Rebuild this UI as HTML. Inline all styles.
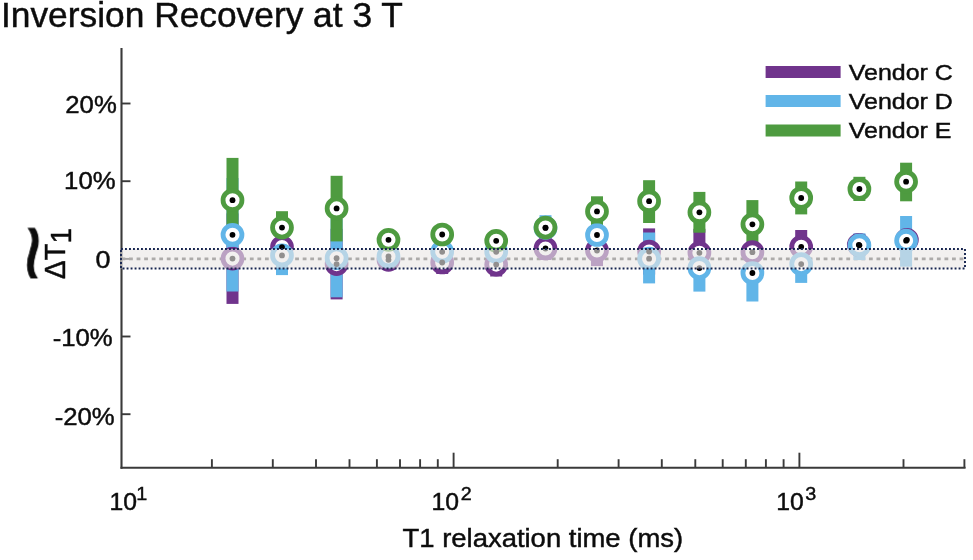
<!DOCTYPE html>
<html><head><meta charset="utf-8"><title>Inversion Recovery at 3 T</title>
<style>
html,body{margin:0;padding:0;background:#fff;}
body{width:973px;height:560px;overflow:hidden;position:relative;font-family:"Liberation Sans",sans-serif;}
svg{position:absolute;left:0;top:0;display:block}
svg text{font-family:"Liberation Sans",sans-serif;fill:#0c0c0c;stroke:#0c0c0c;stroke-width:0.45px;}
</style></head><body>
<svg width="973" height="560" viewBox="0 0 973 560">
<rect width="973" height="560" fill="#fff"/>
<g style="filter:blur(0.4px)">
<g transform="translate(1.0,27.4) scale(1.027,1)"><text x="0" y="0" font-size="34.4">Inversion Recovery at 3 T</text></g>
<g stroke="#3a3a3a" stroke-width="1.9" fill="none">
<line x1="121.5" y1="48" x2="121.5" y2="468.7" stroke-width="2.1"/>
<line x1="120.5" y1="467.8" x2="965.6" y2="467.8" stroke-width="2.1"/>
<line x1="211.9" y1="467.8" x2="211.9" y2="459.2"/>
<line x1="272.8" y1="467.8" x2="272.8" y2="459.2"/>
<line x1="316.0" y1="467.8" x2="316.0" y2="459.2"/>
<line x1="349.5" y1="467.8" x2="349.5" y2="459.2"/>
<line x1="376.9" y1="467.8" x2="376.9" y2="459.2"/>
<line x1="400.0" y1="467.8" x2="400.0" y2="459.2"/>
<line x1="420.1" y1="467.8" x2="420.1" y2="459.2"/>
<line x1="437.8" y1="467.8" x2="437.8" y2="459.2"/>
<line x1="453.6" y1="467.8" x2="453.6" y2="452.7"/>
<line x1="557.7" y1="467.8" x2="557.7" y2="459.2"/>
<line x1="618.6" y1="467.8" x2="618.6" y2="459.2"/>
<line x1="661.8" y1="467.8" x2="661.8" y2="459.2"/>
<line x1="695.3" y1="467.8" x2="695.3" y2="459.2"/>
<line x1="722.7" y1="467.8" x2="722.7" y2="459.2"/>
<line x1="745.8" y1="467.8" x2="745.8" y2="459.2"/>
<line x1="765.9" y1="467.8" x2="765.9" y2="459.2"/>
<line x1="783.6" y1="467.8" x2="783.6" y2="459.2"/>
<line x1="799.4" y1="467.8" x2="799.4" y2="452.7"/>
<line x1="903.5" y1="467.8" x2="903.5" y2="459.2"/>
<line x1="964.4" y1="467.8" x2="964.4" y2="459.2"/>
<line x1="121.6" y1="103.5" x2="130.5" y2="103.5"/>
<line x1="121.6" y1="181.2" x2="130.5" y2="181.2"/>
<line x1="121.6" y1="258.9" x2="130.5" y2="258.9"/>
<line x1="121.6" y1="336.5" x2="130.5" y2="336.5"/>
<line x1="121.6" y1="414.2" x2="130.5" y2="414.2"/>
</g>
<g font-size="24.5" text-anchor="end">
<g transform="translate(116.8,113.4) scale(1.05,1)"><text>20%</text></g>
<g transform="translate(115.6,189) scale(1.05,1)"><text>10%</text></g>
<g transform="translate(110.6,267.6) scale(1.1,1)"><text>0</text></g>
<g transform="translate(112.7,346.1) scale(1.05,1)"><text>-10%</text></g>
<g transform="translate(114.7,424.7) scale(1.05,1)"><text>-20%</text></g>
</g>
<g font-size="23.8">
<g transform="translate(109.6,510.1) scale(1.04,1)"><text>10<tspan font-size="19" dx="-0.8" dy="-9.8">1</tspan></text></g>
<g transform="translate(431.6,510.1) scale(1.04,1)"><text>10<tspan font-size="19" dx="1.5" dy="-9.8">2</tspan></text></g>
<g transform="translate(776.3,510.1) scale(1.04,1)"><text>10<tspan font-size="19" dx="1.5" dy="-9.8">3</tspan></text></g>
</g>
<g transform="translate(402.5,547.4) scale(1.04,1)"><text font-size="26.4">T1 relaxation time (ms)</text></g>
<g transform="translate(64.6,279) rotate(-90) scale(0.96,1)"><text x="0" y="0" font-size="29">ΔT<tspan dy="6">1</tspan></text></g>
<g transform="translate(62,282.5) rotate(-90) scale(2.95,2.55)"><text x="0" y="0" font-size="34" style="stroke-width:0.35px">~</text></g>
<line x1="121.5" y1="258.8" x2="963.5" y2="258.8" stroke="#4a4a4a" stroke-width="2.8" stroke-dasharray="3.8 3.75"/>
<g>
<g><rect x="226.5" y="213.4" width="12" height="90.5" fill="#70348c"/>
<rect x="276.0" y="240.0" width="12" height="14.0" fill="#70348c"/>
<rect x="330.6" y="228.8" width="12" height="70.6" fill="#70348c"/>
<rect x="382.5" y="252.0" width="12" height="15.0" fill="#70348c"/>
<rect x="436.2" y="251.0" width="12" height="23.0" fill="#70348c"/>
<rect x="490.2" y="252.7" width="12" height="23.8" fill="#70348c"/>
<rect x="539.5" y="237.0" width="12" height="23.0" fill="#70348c"/>
<rect x="591.0" y="234.9" width="12" height="31.2" fill="#70348c"/>
<rect x="643.1" y="228.4" width="12" height="46.2" fill="#70348c"/>
<rect x="693.4" y="228.8" width="12" height="48.0" fill="#70348c"/>
<rect x="746.4" y="243.0" width="12" height="18.0" fill="#70348c"/>
<rect x="795.2" y="230.0" width="12" height="33.6" fill="#70348c"/>
<rect x="853.4" y="234.0" width="12" height="22.0" fill="#70348c"/>
<rect x="900.1" y="230.0" width="12" height="20.0" fill="#70348c"/>
<rect x="226.5" y="178.0" width="12" height="113.5" fill="#61b5e8"/>
<rect x="276.0" y="235.7" width="12" height="39.4" fill="#61b5e8"/>
<rect x="330.6" y="219.0" width="12" height="78.3" fill="#61b5e8"/>
<rect x="382.5" y="250.0" width="12" height="13.0" fill="#61b5e8"/>
<rect x="436.2" y="246.0" width="12" height="12.0" fill="#61b5e8"/>
<rect x="490.2" y="246.0" width="12" height="12.0" fill="#61b5e8"/>
<rect x="539.5" y="215.2" width="12" height="26.6" fill="#61b5e8"/>
<rect x="591.0" y="228.0" width="12" height="14.0" fill="#61b5e8"/>
<rect x="643.1" y="232.5" width="12" height="50.9" fill="#61b5e8"/>
<rect x="693.4" y="244.6" width="12" height="47.0" fill="#61b5e8"/>
<rect x="746.4" y="244.5" width="12" height="57.0" fill="#61b5e8"/>
<rect x="795.2" y="245.3" width="12" height="37.6" fill="#61b5e8"/>
<rect x="853.4" y="233.3" width="12" height="26.8" fill="#61b5e8"/>
<rect x="900.1" y="216.0" width="12" height="50.7" fill="#61b5e8"/>
<rect x="226.5" y="157.9" width="12" height="84.6" fill="#4e9b40"/>
<rect x="276.0" y="211.2" width="12" height="32.8" fill="#4e9b40"/>
<rect x="330.6" y="175.8" width="12" height="65.6" fill="#4e9b40"/>
<rect x="382.5" y="232.0" width="12" height="15.0" fill="#4e9b40"/>
<rect x="436.2" y="228.0" width="12" height="13.0" fill="#4e9b40"/>
<rect x="490.2" y="234.0" width="12" height="13.0" fill="#4e9b40"/>
<rect x="539.5" y="220.0" width="12" height="15.0" fill="#4e9b40"/>
<rect x="591.0" y="196.3" width="12" height="30.2" fill="#4e9b40"/>
<rect x="643.1" y="180.2" width="12" height="42.8" fill="#4e9b40"/>
<rect x="693.4" y="191.9" width="12" height="40.8" fill="#4e9b40"/>
<rect x="746.4" y="200.1" width="12" height="48.4" fill="#4e9b40"/>
<rect x="795.2" y="181.5" width="12" height="32.9" fill="#4e9b40"/>
<rect x="853.4" y="176.8" width="12" height="24.2" fill="#4e9b40"/>
<rect x="900.1" y="162.7" width="12" height="38.6" fill="#4e9b40"/></g>
<circle cx="232.5" cy="258.6" r="9.45" fill="#fff" stroke="#70348c" stroke-width="4.8"/>
<circle cx="282.0" cy="247.1" r="9.45" fill="#fff" stroke="#70348c" stroke-width="4.8"/>
<circle cx="336.6" cy="264.1" r="9.45" fill="#fff" stroke="#70348c" stroke-width="4.8"/>
<circle cx="388.5" cy="259.8" r="9.45" fill="#fff" stroke="#70348c" stroke-width="4.8"/>
<circle cx="442.2" cy="262.5" r="9.45" fill="#fff" stroke="#70348c" stroke-width="4.8"/>
<circle cx="496.2" cy="264.6" r="9.45" fill="#fff" stroke="#70348c" stroke-width="4.8"/>
<circle cx="545.5" cy="248.5" r="9.45" fill="#fff" stroke="#70348c" stroke-width="4.8"/>
<circle cx="597.0" cy="250.5" r="9.45" fill="#fff" stroke="#70348c" stroke-width="4.8"/>
<circle cx="649.1" cy="251.5" r="9.45" fill="#fff" stroke="#70348c" stroke-width="4.8"/>
<circle cx="699.4" cy="252.8" r="9.45" fill="#fff" stroke="#70348c" stroke-width="4.8"/>
<circle cx="752.4" cy="252.2" r="9.45" fill="#fff" stroke="#70348c" stroke-width="4.8"/>
<circle cx="801.2" cy="246.8" r="9.45" fill="#fff" stroke="#70348c" stroke-width="4.8"/>
<circle cx="858.8" cy="244.8" r="9.45" fill="#fff" stroke="#70348c" stroke-width="4.8"/>
<circle cx="906.9" cy="239.8" r="9.45" fill="#fff" stroke="#70348c" stroke-width="4.8"/>
<circle cx="232.5" cy="234.8" r="9.45" fill="#fff" stroke="#61b5e8" stroke-width="4.8"/>
<circle cx="282.0" cy="255.4" r="9.45" fill="#fff" stroke="#61b5e8" stroke-width="4.8"/>
<circle cx="336.6" cy="258.2" r="9.45" fill="#fff" stroke="#61b5e8" stroke-width="4.8"/>
<circle cx="388.5" cy="256.5" r="9.45" fill="#fff" stroke="#61b5e8" stroke-width="4.8"/>
<circle cx="442.2" cy="251.8" r="9.45" fill="#fff" stroke="#61b5e8" stroke-width="4.8"/>
<circle cx="496.2" cy="251.8" r="9.45" fill="#fff" stroke="#61b5e8" stroke-width="4.8"/>
<circle cx="545.5" cy="227.9" r="9.45" fill="#fff" stroke="#61b5e8" stroke-width="4.8"/>
<circle cx="597.0" cy="235.0" r="9.45" fill="#fff" stroke="#61b5e8" stroke-width="4.8"/>
<circle cx="649.1" cy="258.7" r="9.45" fill="#fff" stroke="#61b5e8" stroke-width="4.8"/>
<circle cx="699.4" cy="268.1" r="9.45" fill="#fff" stroke="#61b5e8" stroke-width="4.8"/>
<circle cx="752.4" cy="273.0" r="9.45" fill="#fff" stroke="#61b5e8" stroke-width="4.8"/>
<circle cx="801.2" cy="264.1" r="9.45" fill="#fff" stroke="#61b5e8" stroke-width="4.8"/>
<circle cx="859.4" cy="245.3" r="9.45" fill="#fff" stroke="#61b5e8" stroke-width="4.8"/>
<circle cx="906.1" cy="240.7" r="9.45" fill="#fff" stroke="#61b5e8" stroke-width="4.8"/>
<circle cx="232.5" cy="200.2" r="9.45" fill="#fff" stroke="#4e9b40" stroke-width="4.8"/>
<circle cx="282.0" cy="227.6" r="9.45" fill="#fff" stroke="#4e9b40" stroke-width="4.8"/>
<circle cx="336.6" cy="208.4" r="9.45" fill="#fff" stroke="#4e9b40" stroke-width="4.8"/>
<circle cx="388.5" cy="239.8" r="9.45" fill="#fff" stroke="#4e9b40" stroke-width="4.8"/>
<circle cx="442.2" cy="234.5" r="9.45" fill="#fff" stroke="#4e9b40" stroke-width="4.8"/>
<circle cx="496.2" cy="240.8" r="9.45" fill="#fff" stroke="#4e9b40" stroke-width="4.8"/>
<circle cx="545.5" cy="227.6" r="9.45" fill="#fff" stroke="#4e9b40" stroke-width="4.8"/>
<circle cx="597.0" cy="211.4" r="9.45" fill="#fff" stroke="#4e9b40" stroke-width="4.8"/>
<circle cx="649.1" cy="201.2" r="9.45" fill="#fff" stroke="#4e9b40" stroke-width="4.8"/>
<circle cx="699.4" cy="212.3" r="9.45" fill="#fff" stroke="#4e9b40" stroke-width="4.8"/>
<circle cx="752.4" cy="224.3" r="9.45" fill="#fff" stroke="#4e9b40" stroke-width="4.8"/>
<circle cx="801.2" cy="198.0" r="9.45" fill="#fff" stroke="#4e9b40" stroke-width="4.8"/>
<circle cx="859.4" cy="189.0" r="9.45" fill="#fff" stroke="#4e9b40" stroke-width="4.8"/>
<circle cx="906.1" cy="181.7" r="9.45" fill="#fff" stroke="#4e9b40" stroke-width="4.8"/>
<circle cx="232.5" cy="258.6" r="2.9" fill="#000"/>
<circle cx="282.0" cy="247.1" r="2.9" fill="#000"/>
<circle cx="336.6" cy="264.1" r="2.9" fill="#000"/>
<circle cx="388.5" cy="259.8" r="2.9" fill="#000"/>
<circle cx="442.2" cy="262.5" r="2.9" fill="#000"/>
<circle cx="496.2" cy="264.6" r="2.9" fill="#000"/>
<circle cx="545.5" cy="248.5" r="2.9" fill="#000"/>
<circle cx="597.0" cy="250.5" r="2.9" fill="#000"/>
<circle cx="649.1" cy="251.5" r="2.9" fill="#000"/>
<circle cx="699.4" cy="252.8" r="2.9" fill="#000"/>
<circle cx="752.4" cy="252.2" r="2.9" fill="#000"/>
<circle cx="801.2" cy="246.8" r="2.9" fill="#000"/>
<circle cx="858.8" cy="244.8" r="2.9" fill="#000"/>
<circle cx="906.9" cy="239.8" r="2.9" fill="#000"/>
<circle cx="232.5" cy="234.8" r="2.9" fill="#000"/>
<circle cx="282.0" cy="255.4" r="2.9" fill="#000"/>
<circle cx="336.6" cy="258.2" r="2.9" fill="#000"/>
<circle cx="388.5" cy="256.5" r="2.9" fill="#000"/>
<circle cx="442.2" cy="251.8" r="2.9" fill="#000"/>
<circle cx="496.2" cy="251.8" r="2.9" fill="#000"/>
<circle cx="545.5" cy="227.9" r="2.9" fill="#000"/>
<circle cx="597.0" cy="235.0" r="2.9" fill="#000"/>
<circle cx="649.1" cy="258.7" r="2.9" fill="#000"/>
<circle cx="699.4" cy="268.1" r="2.9" fill="#000"/>
<circle cx="752.4" cy="273.0" r="2.9" fill="#000"/>
<circle cx="801.2" cy="264.1" r="2.9" fill="#000"/>
<circle cx="859.4" cy="245.3" r="2.9" fill="#000"/>
<circle cx="906.1" cy="240.7" r="2.9" fill="#000"/>
<circle cx="232.5" cy="200.2" r="2.9" fill="#000"/>
<circle cx="282.0" cy="227.6" r="2.9" fill="#000"/>
<circle cx="336.6" cy="208.4" r="2.9" fill="#000"/>
<circle cx="388.5" cy="239.8" r="2.9" fill="#000"/>
<circle cx="442.2" cy="234.5" r="2.9" fill="#000"/>
<circle cx="496.2" cy="240.8" r="2.9" fill="#000"/>
<circle cx="545.5" cy="227.6" r="2.9" fill="#000"/>
<circle cx="597.0" cy="211.4" r="2.9" fill="#000"/>
<circle cx="649.1" cy="201.2" r="2.9" fill="#000"/>
<circle cx="699.4" cy="212.3" r="2.9" fill="#000"/>
<circle cx="752.4" cy="224.3" r="2.9" fill="#000"/>
<circle cx="801.2" cy="198.0" r="2.9" fill="#000"/>
<circle cx="859.4" cy="189.0" r="2.9" fill="#000"/>
<circle cx="906.1" cy="181.7" r="2.9" fill="#000"/>
</g>
<rect x="121" y="249" width="844" height="19.5" fill="rgba(234,230,229,0.62)"/>
<rect x="121" y="249" width="844" height="19.5" fill="none" stroke="#16244f" stroke-width="1.9" stroke-dasharray="1.9 2.1"/>
<g>
<rect x="765.6" y="66" width="75" height="12" fill="#70348c"/>
<rect x="765.6" y="95" width="75" height="12" fill="#61b5e8"/>
<rect x="765.6" y="124.5" width="75" height="12" fill="#4e9b40"/>
<g font-size="22.9">
<g transform="translate(848.8,80.3) scale(1.09,1)"><text>Vendor C</text></g>
<g transform="translate(848.8,108.7) scale(1.09,1)"><text>Vendor D</text></g>
<g transform="translate(848.8,138.1) scale(1.09,1)"><text>Vendor E</text></g>
</g>
</g>
</g>
</svg>
</body></html>
